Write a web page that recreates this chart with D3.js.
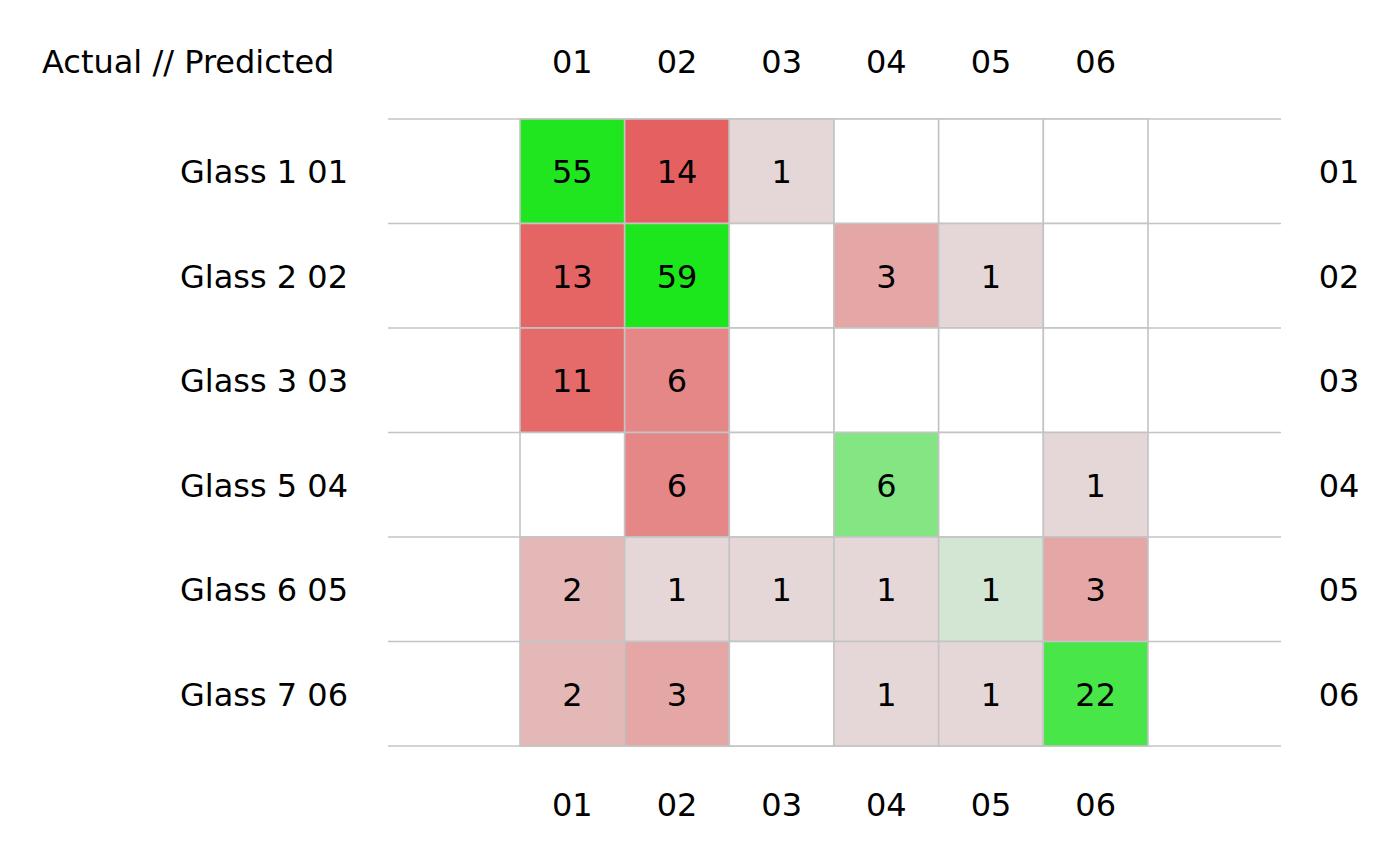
<!DOCTYPE html>
<html><head><meta charset="utf-8">
<script src="https://cdn.jsdelivr.net/npm/d3@7"></script>
<style>
html,body{margin:0;padding:0;background:#fff;}
text{font-family:"DejaVu Sans",sans-serif;fill:#000;}
</style></head>
<body>
<svg id="chart" width="1400" height="866"></svg>
<script>
const title = "Actual // Predicted";
const rowNames = ["Glass 1", "Glass 2", "Glass 3", "Glass 5", "Glass 6", "Glass 7"];
const codes = ["01", "02", "03", "04", "05", "06"];
const counts = [
  [55, 14, 1, 0, 0, 0],
  [13, 59, 0, 3, 1, 0],
  [11, 6, 0, 0, 0, 0],
  [0, 6, 0, 6, 0, 1],
  [2, 1, 1, 1, 1, 3],
  [2, 3, 0, 1, 1, 22]
];

const svg = d3.select("#chart");
const fs = 32;
const x = d3.scaleBand().domain(codes).range([520, 1148]);
const y = d3.scaleBand().domain(codes).range([119, 746]);
const lineX = [388, 1281];

// intensity scale (log of count)
const level = d3.scaleLog().domain([1, 59]).range([211, 28]);
function cellColor(v, diag) {
  if (!v) return "#ffffff";
  const c = Math.round(level(v));
  return diag ? d3.rgb(c, 230, c).toString() : d3.rgb(229, c + 4, c + 4).toString();
}

// horizontal lines
const bounds = codes.map(c => y(c)).concat([y.range()[1]]);
svg.append("g").selectAll("line").data(bounds).join("line")
  .attr("x1", lineX[0]).attr("x2", lineX[1])
  .attr("y1", d => d).attr("y2", d => d)
  .attr("stroke", "#c4c4c4").attr("stroke-width", 1.4);

const cells = [];
counts.forEach((row, i) => row.forEach((v, j) => cells.push({r: codes[i], c: codes[j], v, diag: i === j})));

const g = svg.append("g");
g.selectAll("rect").data(cells).join("rect")
  .attr("x", d => x(d.c)).attr("y", d => y(d.r))
  .attr("width", x.bandwidth()).attr("height", y.bandwidth())
  .attr("fill", d => cellColor(d.v, d.diag))
  .attr("stroke", "#c4c4c4").attr("stroke-width", 1.6);

g.selectAll("text").data(cells.filter(d => d.v > 0)).join("text")
  .attr("x", d => x(d.c) + x.bandwidth() / 2)
  .attr("y", d => y(d.r) + y.bandwidth() / 2 + 1)
  .attr("text-anchor", "middle").attr("dominant-baseline", "central")
  .attr("font-size", fs).text(d => d.v);

// top & bottom column labels
[62, 805].forEach(yy => {
  svg.append("g").selectAll("text").data(codes).join("text")
    .attr("x", d => x(d) + x.bandwidth() / 2).attr("y", yy)
    .attr("text-anchor", "middle").attr("dominant-baseline", "central")
    .attr("font-size", fs).text(d => d);
});

// left row labels
svg.append("g").selectAll("text").data(codes).join("text")
  .attr("x", 348).attr("y", d => y(d) + y.bandwidth() / 2 + 1)
  .attr("text-anchor", "end").attr("dominant-baseline", "central")
  .attr("font-size", fs).text((d, i) => rowNames[i] + " " + d);

// right row labels
svg.append("g").selectAll("text").data(codes).join("text")
  .attr("x", 1339).attr("y", d => y(d) + y.bandwidth() / 2 + 1)
  .attr("text-anchor", "middle").attr("dominant-baseline", "central")
  .attr("font-size", fs).text(d => d);

// title
svg.append("text").attr("x", 42).attr("y", 62)
  .attr("dominant-baseline", "central").attr("font-size", fs).text(title);
</script>
</body></html>
